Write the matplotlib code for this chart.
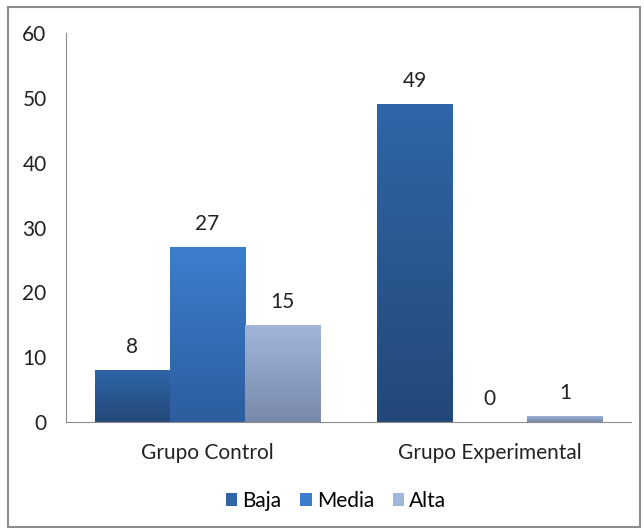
import numpy as np
import matplotlib
matplotlib.use("Agg")
import matplotlib.pyplot as plt
from matplotlib.colors import LinearSegmentedColormap
from matplotlib.patches import Rectangle

categories = ["Grupo Control", "Grupo Experimental"]
series_names = ["Baja", "Media", "Alta"]
baja = [8, 49]
media = [27, 0]
alta = [15, 1]
yticks = [0, 10, 20, 30, 40, 50, 60]

# top colour, bottom colour for each series
gradients = {
    "Baja": ("#3065A8", "#234878"),
    "Media": ("#3C7ECE", "#2C5D9E"),
    "Alta": ("#A2B6DC", "#7889AB"),
}

plt.rcParams["font.family"] = ["Lato", "DejaVu Sans"]
FS = 15

fig = plt.figure(figsize=(6.44, 5.30), dpi=100)
ax = fig.add_axes([66 / 644, 108 / 530, 565 / 644, 389 / 530])

values = [baja, media, alta]
n = len(series_names)
bar_w = 75 / 282
x = np.arange(len(categories))

for i, (name, vals) in enumerate(zip(series_names, values)):
    top, bottom = gradients[name]
    cmap = LinearSegmentedColormap.from_list(name, [bottom, top])
    offs = (i - (n - 1) / 2) * bar_w
    bars = ax.bar(x + offs, vals, bar_w, color=top, label=name, zorder=2)
    for b, v in zip(bars, vals):
        b.set_facecolor("none")
        b.set_edgecolor("none")
        if v > 0:
            x0 = b.get_x()
            grad = np.linspace(0, 1, 256).reshape(-1, 1)
            im = ax.imshow(grad, cmap=cmap, origin="lower", aspect="auto",
                           extent=(x0, x0 + bar_w, 0, v), zorder=2,
                           interpolation="bilinear")
            im.set_clip_path(Rectangle((x0, 0), bar_w, v, transform=ax.transData))
        ax.text(b.get_x() + bar_w / 2, v + 2.0, str(v), ha="center",
                va="bottom", fontsize=FS, color="#222222")

ax.set_xlim(-0.5, 1.5)
ax.set_ylim(0, 60)
ax.set_yticks(yticks)
ax.set_yticklabels([str(t) for t in yticks], fontsize=FS, color="#222222")
ax.set_xticks(x)
ax.set_xticklabels(categories, fontsize=FS, color="#222222")
ax.tick_params(axis="both", length=0)
ax.tick_params(axis="y", pad=14)
ax.tick_params(axis="x", pad=15)
for s in ["top", "right"]:
    ax.spines[s].set_visible(False)
ax.spines["left"].set_color("#8c8c8c")
ax.spines["bottom"].set_color("#8c8c8c")

handles = [Rectangle((0, 0), 1, 1, facecolor=gradients[nm][0], edgecolor="none")
           for nm in series_names]
fig.legend(handles, series_names, loc="center", bbox_to_anchor=(336 / 644, 29 / 530),
           ncol=3, frameon=False, fontsize=FS, handlelength=0.55, handleheight=0.55,
           handletextpad=0.25, columnspacing=0.9)

fig.patches.append(Rectangle((8 / 644, 3 / 530), 632 / 644, 520 / 530,
                             transform=fig.transFigure, fill=False,
                             edgecolor="#8c8c8c", linewidth=1.5))

fig.savefig("out.png", dpi=100)
